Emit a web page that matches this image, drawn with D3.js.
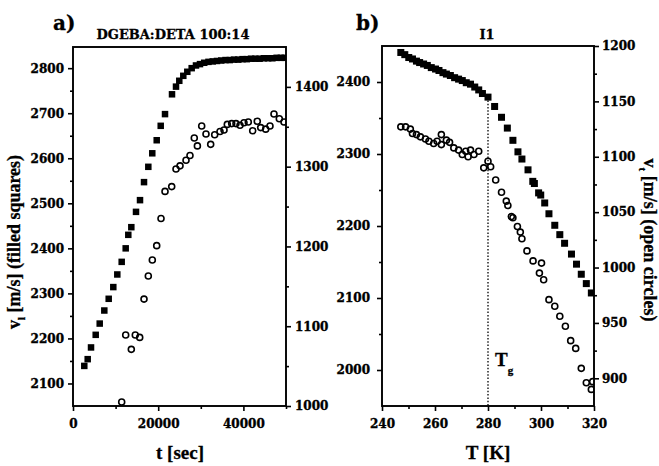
<!DOCTYPE html>
<html>
<head>
<meta charset="utf-8">
<script src="https://cdn.jsdelivr.net/npm/d3@7"></script>
<style>
body { margin: 0; background: #fff; }
.tick text { font-family: "DejaVu Serif", serif; font-weight: bold; font-size: 12px; fill: #000; stroke: #000; stroke-width: 0.35; }
.tick line { stroke: #000; stroke-width: 1.6; }
.domain { display: none; }
.ttl { font-family: "Liberation Serif", "Times New Roman", serif; font-weight: bold; fill: #000; stroke: #000; stroke-width: 0.3; }
.big { font-family: "DejaVu Serif", serif; font-weight: bold; fill: #000; stroke: #000; stroke-width: 0.3; }
</style>
</head>
<body>
<div id="chart"></div>
<script>
// panel a) : cure time vs velocities
var cureSquares = [[2650,2139],[3450,2154],[4230,2180],[5330,2208],[6270,2233],[7350,2262],[8380,2288],[9460,2314],
  [10400,2342],[11430,2370],[12370,2400],[12980,2430],[13690,2447],[14790,2481],[15730,2507],[16670,2547],[17680,2581],
  [18610,2611],[19650,2640],[20590,2672],[21600,2698],[23240,2742],[24180,2759],[24950,2772],[25890,2783],[26830,2792],
  [27860,2800],[28870,2806],[29810,2809],[30800,2812],[31800,2814],[32800,2815],[33800,2816],[34800,2817],[35800,2818],
  [36800,2818],[37800,2819],[38800,2819],[39800,2820],[40800,2820],[41800,2821],[42800,2821],[43800,2821],[44800,2822],
  [45800,2822],[46800,2822],[47800,2823],[48800,2823],[49700,2823]];
var cureCircles = [[11430,1005],[12370,1089],[13690,1071],[14620,1089],[15660,1086],[16670,1134],[17680,1163],[18620,1183],
  [19650,1201],[20660,1235],[21600,1269],[23170,1275],[24180,1297],[25120,1301],[26530,1308],[27460,1314],[28470,1336],
  [29200,1326],[30210,1351],[31220,1341],[32320,1328],[33260,1340],[34510,1344],[35450,1346],[36220,1353],[37250,1354],
  [38260,1354],[39200,1352],[40140,1355],[41150,1356],[42180,1345],[43260,1357],[44060,1349],[45230,1347],[46240,1351],
  [47180,1366],[48430,1360],[49530,1356]];

// panel b) : temperature vs velocities
var tempSquares = [[247.1,2441],[248.6,2438],[250.1,2434],[251.5,2432],[253.0,2429],[254.2,2427],[255.7,2425],[257.1,2423],
  [258.6,2420],[260.2,2418],[261.5,2416],[263.0,2413],[264.3,2411],[265.8,2409],[267.4,2406],[268.9,2404],[270.3,2402],
  [271.8,2399],[273.4,2397],[275.0,2393],[276.5,2389],[277.9,2384],[280.0,2379],[282.5,2366],[285.1,2351],[287.3,2336],
  [289.4,2319],[291.3,2303],[292.8,2293],[295.1,2278],[296.9,2262],[297.5,2259],[299.1,2246],[299.9,2243],[301.4,2232],
  [303.0,2217],[305.2,2201],[307.1,2188],[308.9,2176],[311.5,2161],[313.4,2147],[315.2,2133],[317.1,2120],[319.0,2107]];
var tempCircles = [[247.1,1127],[248.9,1127],[250.7,1125],[251.5,1121],[253.0,1120],[254.5,1118],[256.4,1116],[257.7,1114],
  [259.5,1112],[260.8,1114],[262.4,1120],[262.4,1111],[264.3,1115],[265.5,1113],[267.1,1108],[268.9,1106],[270.3,1102],
  [271.6,1105],[272.5,1100],[273.4,1106],[274.7,1102],[276.5,1105],[278.4,1090],[280.0,1096],[281.0,1091],[282.9,1079],
  [285.1,1068],[286.9,1060],[287.5,1056],[288.8,1046],[289.4,1045],[291.1,1037],[292.2,1032],[292.8,1026],[294.7,1015],
  [297.0,1006],[300.2,1004],[299.4,995],[301.0,989],[303.0,971],[305.2,965],[307.1,956],[309.2,947],[311.2,934],
  [313.1,927],[315.2,909],[317.1,896],[319.0,890],[319.5,897]];
var Tg = 280, TgV = 2379;

// tick values
var aXMajor = [0, 20000, 40000], aXMinor = [10000, 30000, 50000];
var aYLMajor = [2100, 2200, 2300, 2400, 2500, 2600, 2700, 2800], aYLMinor = [2150, 2250, 2350, 2450, 2550, 2650, 2750];
var aYRMajor = [1000, 1100, 1200, 1300, 1400], aYRMinor = [1050, 1150, 1250, 1350];
var bXMajor = [240, 260, 280, 300, 320], bXMinor = [250, 270, 290, 310];
var bYLMajor = [2000, 2100, 2200, 2300, 2400], bYLMinor = [2050, 2150, 2250, 2350];
var bYRMajor = [900, 950, 1000, 1050, 1100, 1150, 1200], bYRMinor = [925, 975, 1025, 1075, 1125, 1175];

var W = 659, H = 466;
var svg = d3.select("#chart").append("svg").attr("width", W).attr("height", H);
svg.append("rect").attr("width", W).attr("height", H).attr("fill", "#fff");

function panel(o) {
  var x = d3.scaleLinear().domain(o.xd).range([o.x0, o.x1]);
  var yl = d3.scaleLinear().domain(o.yld).range([o.y1, o.y0]);
  var yr = d3.scaleLinear().domain(o.yrd).range([o.y1, o.y0]);
  var g = svg.append("g");

  g.append("clipPath").attr("id", o.id)
    .append("rect").attr("x", o.x0).attr("y", o.y0).attr("width", o.x1 - o.x0).attr("height", o.y1 - o.y0);

  // ticks
  g.append("g").attr("transform", "translate(0," + o.y1 + ")")
    .call(d3.axisBottom(x).tickValues(o.xMaj).tickSize(5).tickPadding(8).tickFormat(d3.format("d")));
  g.append("g").attr("transform", "translate(0," + o.y1 + ")")
    .call(d3.axisBottom(x).tickValues(o.xMin).tickSize(3).tickFormat(""));
  g.append("g").attr("transform", "translate(" + o.x0 + ",0)")
    .call(d3.axisLeft(yl).tickValues(o.ylMaj).tickSize(5).tickPadding(o.lpad).tickFormat(d3.format("d")));
  g.append("g").attr("transform", "translate(" + o.x0 + ",0)")
    .call(d3.axisLeft(yl).tickValues(o.ylMin).tickSize(3).tickFormat(""));
  g.append("g").attr("transform", "translate(" + o.x1 + ",0)")
    .call(d3.axisRight(yr).tickValues(o.yrMaj).tickSize(5).tickPadding(o.rpad).tickFormat(d3.format("d")));
  g.append("g").attr("transform", "translate(" + o.x1 + ",0)")
    .call(d3.axisRight(yr).tickValues(o.yrMin).tickSize(3).tickFormat(""));

  var pts = g.append("g").attr("clip-path", "url(#" + o.id + ")");
  pts.selectAll("rect.sq").data(o.sq).enter().append("rect")
    .attr("class", "sq")
    .attr("x", function(d) { return x(d[0]) - o.s / 2; })
    .attr("y", function(d) { return yl(d[1]) - o.s / 2; })
    .attr("width", o.s).attr("height", o.s)
    .attr("fill", "#000");
  pts.selectAll("circle").data(o.ci).enter().append("circle")
    .attr("cx", function(d) { return x(d[0]); })
    .attr("cy", function(d) { return yr(d[1]); })
    .attr("r", 3)
    .attr("fill", "none").attr("stroke", "#000").attr("stroke-width", 1.6);

  g.append("rect").attr("x", o.x0).attr("y", o.y0).attr("width", o.x1 - o.x0).attr("height", o.y1 - o.y0)
    .attr("fill", "none").attr("stroke", "#000").attr("stroke-width", 1.9);

  return {g: g, x: x, yl: yl, yr: yr};
}

var a = panel({id: "clipA", x0: 73, x1: 286, y0: 47, y1: 406,
  xd: [0, 50000], yld: [2050, 2847], yrd: [1000, 1450],
  xMaj: aXMajor, xMin: aXMinor, ylMaj: aYLMajor, ylMin: aYLMinor, yrMaj: aYRMajor, yrMin: aYRMinor,
  lpad: 4, rpad: 4, s: 6.5, sq: cureSquares, ci: cureCircles});

var b = panel({id: "clipB", x0: 382, x1: 594, y0: 46, y1: 406,
  xd: [240, 320], yld: [1950, 2450], yrd: [875, 1200],
  xMaj: bXMajor, xMin: bXMinor, ylMaj: bYLMajor, ylMin: bYLMinor, yrMaj: bYRMajor, yrMin: bYRMinor,
  lpad: 7, rpad: 3, s: 7, sq: tempSquares, ci: tempCircles});

// glass transition marker
b.g.append("line")
  .attr("x1", b.x(Tg)).attr("x2", b.x(Tg))
  .attr("y1", b.yl(TgV)).attr("y2", b.yl(1950))
  .attr("stroke", "#000").attr("stroke-width", 1.3).attr("stroke-dasharray", "1.5,1.8");
var tg = svg.append("text").attr("class", "ttl").attr("x", 495).attr("y", 366).style("font-size", "19px").text("T");
tg.append("tspan").attr("dy", 8).style("font-size", "11px").text("g");

// panel labels and titles
svg.append("text").attr("class", "big").attr("x", 53).attr("y", 30).style("font-size", "20px").text("a)");
svg.append("text").attr("class", "big").attr("x", 356).attr("y", 30).style("font-size", "20px").text("b)");
svg.append("text").attr("class", "big").attr("x", 173).attr("y", 39).attr("text-anchor", "middle")
  .style("font-size", "13px").text("DGEBA:DETA 100:14");
svg.append("text").attr("class", "big").attr("x", 487).attr("y", 39).attr("text-anchor", "middle")
  .style("font-size", "13px").text("I1");

svg.append("text").attr("class", "ttl").attr("x", 180).attr("y", 459).attr("text-anchor", "middle")
  .style("font-size", "19px").text("t [sec]");
svg.append("text").attr("class", "ttl").attr("x", 488).attr("y", 459).attr("text-anchor", "middle")
  .style("font-size", "19px").text("T [K]");

var yt1 = svg.append("text").attr("class", "ttl").attr("transform", "translate(20,242) rotate(-90)")
  .attr("text-anchor", "middle").style("font-size", "18px");
yt1.append("tspan").text("v");
yt1.append("tspan").attr("dy", 5).style("font-size", "11px").text("l");
yt1.append("tspan").attr("dy", -5).text(" [m/s] (filled squares)");

var yt2 = svg.append("text").attr("class", "ttl").attr("transform", "translate(644,240) rotate(90)")
  .attr("text-anchor", "middle").style("font-size", "18px");
yt2.append("tspan").text("v");
yt2.append("tspan").attr("dy", 5).style("font-size", "11px").text("t");
yt2.append("tspan").attr("dy", -5).text(" [m/s] (open circles)");
</script>
</body>
</html>
